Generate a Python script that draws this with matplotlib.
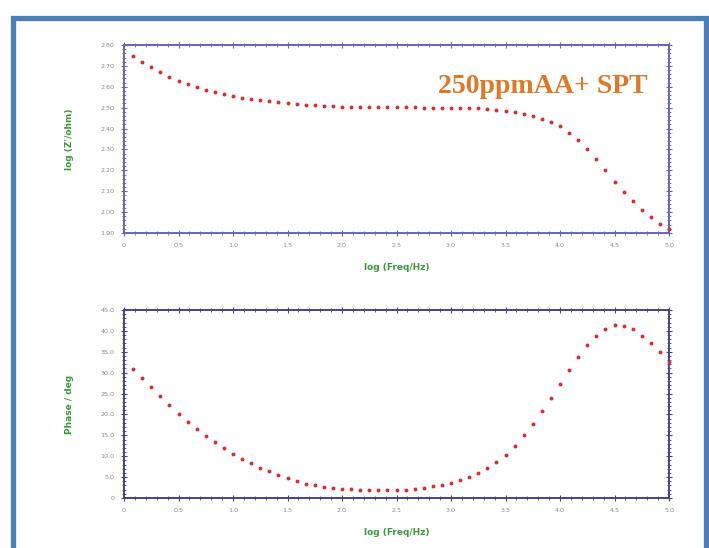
import matplotlib.pyplot as plt
from matplotlib.ticker import AutoMinorLocator, FixedLocator
from matplotlib.patches import Rectangle

# log frequency (12 points per decade)
log_freq = [0.083, 0.167, 0.250, 0.333, 0.417, 0.500, 0.583, 0.667, 0.750, 0.833,
            0.917, 1.000, 1.083, 1.167, 1.250, 1.333, 1.417, 1.500, 1.583, 1.667,
            1.750, 1.833, 1.917, 2.000, 2.083, 2.167, 2.250, 2.333, 2.417, 2.500,
            2.583, 2.667, 2.750, 2.833, 2.917, 3.000, 3.083, 3.167, 3.250, 3.333,
            3.417, 3.500, 3.583, 3.667, 3.750, 3.833, 3.917, 4.000, 4.083, 4.167,
            4.250, 4.333, 4.417, 4.500, 4.583, 4.667, 4.750, 4.833, 4.917, 5.000]

log_z = [2.749, 2.717, 2.693, 2.669, 2.646, 2.629, 2.613, 2.599, 2.586, 2.575,
         2.565, 2.556, 2.548, 2.541, 2.535, 2.530, 2.525, 2.521, 2.517, 2.514,
         2.511, 2.509, 2.507, 2.505, 2.504, 2.503, 2.502, 2.502, 2.502, 2.501,
         2.501, 2.501, 2.500, 2.500, 2.500, 2.499, 2.498, 2.497, 2.496, 2.494,
         2.490, 2.485, 2.478, 2.469, 2.458, 2.446, 2.430, 2.410, 2.380, 2.343,
         2.300, 2.252, 2.200, 2.146, 2.098, 2.055, 2.010, 1.977, 1.943, 1.920]

phase = [30.9, 28.7, 26.6, 24.4, 22.2, 20.1, 18.2, 16.4, 14.8, 13.3,
         11.9, 10.6, 9.4, 8.3, 7.3, 6.4, 5.6, 4.9, 4.1, 3.4,
         3.1, 2.6, 2.4, 2.2, 2.1, 2.0, 1.9, 1.9, 1.9, 1.9,
         1.9, 2.2, 2.4, 2.8, 3.1, 3.6, 4.3, 5.0, 6.0, 7.2,
         8.6, 10.4, 12.5, 15.0, 17.8, 20.8, 24.0, 27.3, 30.6, 33.7,
         36.6, 38.8, 40.4, 41.4, 41.1, 40.4, 38.8, 37.1, 34.9, 32.5]

x_ticks = [0, 0.5, 1.0, 1.5, 2.0, 2.5, 3.0, 3.5, 4.0, 4.5, 5.0]
x_labels = ['0', '0.5', '1.0', '1.5', '2.0', '2.5', '3.0', '3.5', '4.0', '4.5', '5.0']
z_ticks = [1.90, 2.00, 2.10, 2.20, 2.30, 2.40, 2.50, 2.60, 2.70, 2.80]
p_ticks = [0, 5, 10, 15, 20, 25, 30, 35, 40, 45]
p_labels = ['0', '5.0', '10.0', '15.0', '20.0', '25.0', '30.0', '35.0', '40.0', '45.0']

fig = plt.figure(figsize=(7.09, 5.48), dpi=100)
fig.patch.set_facecolor('white')

# blue frame around the slide
fig.patches.append(Rectangle((12.5 / 709, -0.02), 693 / 709, 1 - 17.5 / 548 + 0.02,
                             transform=fig.transFigure, fill=False,
                             edgecolor='#4a7fba', linewidth=3.8, zorder=10))

green = '#3a9a3a'
dot = '#d52e2e'


def style(ax, spine_col):
    for s in ax.spines.values():
        s.set_color(spine_col)
        s.set_linewidth(1.4)
    ax.set_facecolor('white')
    ax.set_xlim(0, 5.0)
    ax.xaxis.set_major_locator(FixedLocator(x_ticks))
    ax.set_xticklabels(x_labels)
    ax.xaxis.set_minor_locator(AutoMinorLocator(5))
    ax.yaxis.set_minor_locator(AutoMinorLocator(5))
    ax.tick_params(which='both', direction='inout', top=True, right=True,
                   colors=spine_col, labelcolor='#8a8a8a', labelsize=4.6)
    ax.tick_params(which='major', length=4, width=0.8, pad=5)
    ax.tick_params(which='minor', length=2.5, width=0.6)
    ax.set_xlabel('log (Freq/Hz)', color=green, fontsize=6.5,
                  fontweight='bold', labelpad=11)


ax1 = fig.add_axes([0.1749, 0.5748, 0.7687, 0.3431])
ax1.plot(log_freq, log_z, 'o', color=dot, markersize=2.8, markeredgewidth=0,
         clip_on=False, zorder=5)
style(ax1, '#6666b8')
ax1.set_ylim(1.90, 2.80)
ax1.yaxis.set_major_locator(FixedLocator(z_ticks))
ax1.set_yticklabels(['%.2f' % v for v in z_ticks])
ax1.set_ylabel("log (Z'/ohm)", color=green, fontsize=6.5, fontweight='bold',
               labelpad=19)
ax1.text(0.961, 0.745, '250ppmAA+ SPT', transform=ax1.transAxes,
         ha='right', va='baseline', color='#dd7a2a', fontsize=20,
         fontweight='bold', family='Liberation Serif')

ax2 = fig.add_axes([0.1749, 0.0912, 0.7687, 0.3431])
ax2.plot(log_freq, phase, 'o', color=dot, markersize=2.8, markeredgewidth=0,
         clip_on=False, zorder=5)
style(ax2, '#44448a')
ax2.set_ylim(0, 45)
ax2.yaxis.set_major_locator(FixedLocator(p_ticks))
ax2.set_yticklabels(p_labels)
ax2.set_ylabel('Phase / deg', color=green, fontsize=6.5, fontweight='bold',
               labelpad=19)

fig.savefig('out.png', dpi=100)
